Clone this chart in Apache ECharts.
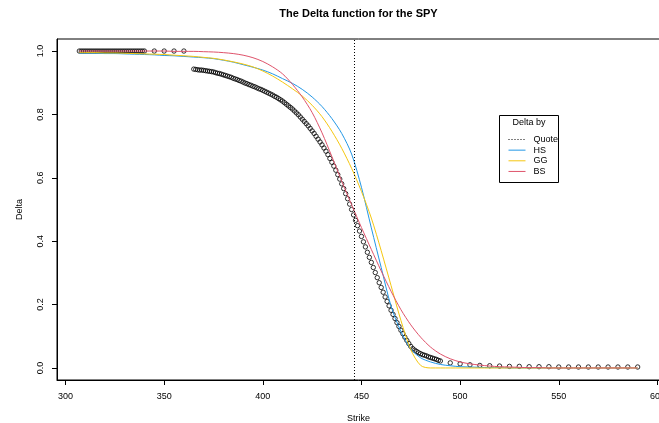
<!DOCTYPE html>
<html><head><meta charset="utf-8">
<script src="https://cdn.jsdelivr.net/npm/echarts@6/dist/echarts.min.js"></script>
<style>html,body{margin:0;padding:0;background:#fff}#c{width:659px;height:423px}</style>
</head><body><div id="c"></div>
<script>
// ---- data ----
const marketStrike = [
307,308,309,310,311,312,313,314,315,316,317,318,319,320,321,322,323,324,325,326,327,328,329,330,331,332,333,334,335,336,337,338,339,340,
345,350,355,360,
365,366,367,368,369,370,371,372,373,374,375,376,377,378,379,380,381,382,383,384,385,386,387,388,389,390,
391,392,393,394,395,396,397,398,399,400,401,402,403,404,405,406,407,408,409,410,
411,412,413,414,415,416,417,418,419,420,421,422,423,424,425,426,427,428,429,430,
431,432,433,434,435,436,437,438,439,440,441,442,443,444,445,446,447,448,449,450,
451,452,453,454,455,456,457,458,459,460,461,462,463,464,465,466,467,468,469,470,
471,472,473,474,475,476,477,478,479,480,481,482,483,484,485,486,487,488,489,490,
495,500,505,510,515,520,525,530,535,540,545,550,555,560,565,570,575,580,585,590];
const marketDelta = [
1,1,1,1,1,1,1,1,1,1,1,1,1,1,1,1,1,1,1,1,1,1,1,1,1,1,1,1,1,1,1,1,1,1,
1,1,1,1,
0.943,0.942,0.941,0.940,0.940,0.939,0.938,0.937,0.936,0.935,0.934,0.932,0.930,0.929,0.927,0.925,0.923,0.921,0.919,0.917,0.914,0.912,0.910,0.907,0.905,0.902,
0.899,0.897,0.894,0.892,0.889,0.887,0.884,0.881,0.879,0.876,0.873,0.870,0.867,0.864,0.861,0.857,0.854,0.850,0.846,0.842,
0.837,0.832,0.827,0.822,0.817,0.811,0.805,0.799,0.792,0.785,0.778,0.771,0.764,0.756,0.748,0.740,0.731,0.722,0.713,0.704,
0.694,0.684,0.673,0.661,0.649,0.637,0.624,0.610,0.596,0.581,0.566,0.550,0.534,0.517,0.500,0.483,0.466,0.449,0.432,0.415,
0.398,0.382,0.365,0.349,0.333,0.317,0.301,0.285,0.269,0.254,0.239,0.224,0.210,0.196,0.182,0.169,0.156,0.143,0.131,0.119,
0.108,0.097,0.087,0.077,0.068,0.061,0.056,0.052,0.048,0.045,0.042,0.040,0.038,0.035,0.033,0.031,0.029,0.027,0.024,0.022,
0.016,0.013,0.010,0.008,0.007,0.006,0.005,0.005,0.004,0.004,0.004,0.003,0.003,0.003,0.003,0.003,0.003,0.003,0.003,0.003];

const lineStrike = [307,310,315,320,325,330,335,340,345,350,355,360,365,370,375,380,385,390,395,400,
405,410,415,420,425,430,435,440,445,450,455,460,465,470,475,480,485,490,495,500,
505,510,515,520,525,530,535,540,545,550,555,560,565,570,575,580,585,590];
const hsDelta = [0.993,0.993,0.993,0.992,0.992,0.991,0.990,0.989,0.988,0.986,0.985,0.983,0.981,0.979,0.976,0.971,0.965,0.957,0.949,0.940,
0.928,0.913,0.898,0.879,0.855,0.825,0.787,0.740,0.675,0.570,0.442,0.317,0.195,0.115,0.060,0.032,0.019,0.011,0.007,0.004,
0.003,0.002,0.001,0.001,0,0,0,0,0,0,0,0,0,0,0,0,0,0];
const ggDelta = [0.995,0.995,0.995,0.994,0.994,0.993,0.992,0.991,0.990,0.989,0.987,0.985,0.983,0.980,0.977,0.972,0.966,0.959,0.950,0.937,
0.921,0.902,0.881,0.858,0.829,0.793,0.747,0.693,0.630,0.557,0.473,0.370,0.260,0.150,0.058,0.008,0,0,0,0,
0,0,0,0,0,0,0,0,0,0,0,0,0,0,0,0,0,0];
const bsDelta = [1,1,1,1,1,1,1,1,1,1,0.999,0.999,0.999,0.998,0.997,0.995,0.992,0.987,0.979,0.967,
0.950,0.928,0.895,0.855,0.806,0.742,0.667,0.589,0.515,0.443,0.374,0.306,0.242,0.184,0.136,0.097,0.066,0.044,0.029,0.019,
0.013,0.009,0.006,0.004,0.003,0.002,0.001,0.001,0,0,0,0,0,0,0,0,0,0];
const quoteStrike = 446.5;
const xTicks = [300,350,400,450,500,550,600];
const yTicks = [0,0.2,0.4,0.6,0.8,1.0];

// ---- chart ----
const FONT = '"Liberation Sans", Arial, Helvetica, sans-serif';
const zip = (xs, ys) => xs.map((x, i) => [x, ys[i]]);
const chart = echarts.init(document.getElementById('c'), null, {renderer: 'canvas'});
const txt = {fontFamily: FONT, fontSize: 9, color: '#000'};
const curve = (name, ys, color) => ({
  name, type: 'line', data: zip(lineStrike, ys), showSymbol: false, symbol: 'none',
  smooth: 0.3, z: 3, lineStyle: {color, width: 1}, itemStyle: {color}
});
chart.setOption({
  animation: false,
  backgroundColor: '#fff',
  grid: {left: 57, top: 39, width: 603, height: 341, show: true, borderColor: '#000', borderWidth: 1,
    containLabel: false, outerBoundsMode: 'none'},
  xAxis: {
    type: 'value', min: 295.68, max: 601.32,
    name: 'Strike', nameLocation: 'middle', nameGap: 34, nameTextStyle: txt,
    axisLine: {show: true, onZero: false, lineStyle: {color: '#000', width: 1}},
    axisTick: {show: true, length: 5, customValues: xTicks, lineStyle: {color: '#000', width: 1}},
    axisLabel: Object.assign({customValues: xTicks, margin: 12}, txt),
    splitLine: {show: false}
  },
  yAxis: {
    type: 'value', min: -0.038, max: 1.038,
    name: 'Delta', nameLocation: 'middle', nameGap: 33, nameTextStyle: txt,
    axisLine: {show: true, onZero: false, lineStyle: {color: '#000', width: 1}},
    axisTick: {show: true, length: 5, customValues: yTicks, lineStyle: {color: '#000', width: 1}},
    axisLabel: Object.assign({customValues: yTicks, margin: 12, rotate: 90, formatter: v => v.toFixed(1)}, txt),
    splitLine: {show: false}
  },
  legend: {
    orient: 'vertical', left: 508, top: 135, padding: 0,
    itemWidth: 17, itemHeight: 11, itemGap: 1.65,
    itemStyle: {opacity: 0},
    lineStyle: {width: 1},
    data: ['Quote', 'HS', 'GG', 'BS'],
    textStyle: Object.assign({padding: [0, 0, 0, 3]}, txt)
  },
  graphic: [
    {type: 'text', style: {text: 'The Delta function for the SPY', x: 358.5, y: 13.5,
      font: 'bold 11px ' + FONT, fill: '#000', textAlign: 'center', textVerticalAlign: 'middle'}},
    {type: 'rect', shape: {x: 499.5, y: 115.5, width: 59, height: 67}, style: {fill: 'none', stroke: '#000', lineWidth: 1}},
    {type: 'text', style: {text: 'Delta by', x: 529, y: 122.5, font: '9px ' + FONT, fill: '#000', textAlign: 'center', textVerticalAlign: 'middle'}}
  ],
  series: [
    {name: 'market', type: 'scatter', data: zip(marketStrike, marketDelta), symbol: 'circle', symbolSize: 4.4, z: 2,
      itemStyle: {color: 'rgba(0,0,0,0)', borderColor: '#000', borderWidth: 1}},
    {name: 'Quote', type: 'line', data: [], symbol: 'none', lineStyle: {color: '#000', width: 1, type: [1, 2]}, itemStyle: {color: '#000'},
      markLine: {silent: true, symbol: 'none', label: {show: false}, lineStyle: {color: '#000', width: 1, type: [1, 2]},
        data: [{xAxis: quoteStrike}]}},
    curve('HS', hsDelta, '#2297E6'),
    curve('GG', ggDelta, '#F5C710'),
    curve('BS', bsDelta, '#DF536B')
  ]
});
</script>
</body></html>
